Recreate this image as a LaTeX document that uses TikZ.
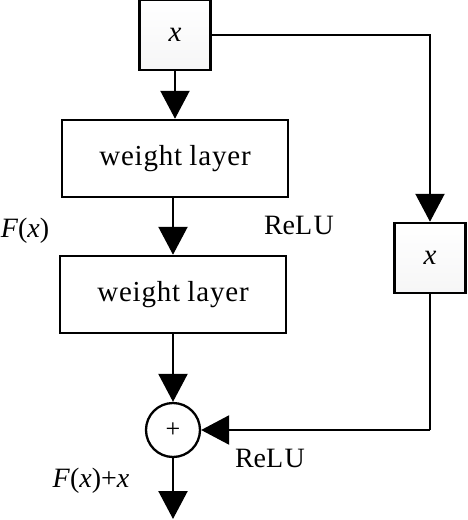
\documentclass[tikz,border=0pt]{standalone}
\usepackage{fontspec}
\setmainfont{Liberation Serif}
\usetikzlibrary{arrows.meta,positioning}
\tikzset{
  lbl/.style={font=\fontsize{28}{32}\selectfont, inner sep=0pt},
  wbox/.style={draw, line width=2.5pt, minimum width=226pt, minimum height=77pt, inner sep=0pt, font=\fontsize{29}{32}\selectfont, fill=white},
  xbox/.style={draw, line width=2.5pt, minimum width=71pt, minimum height=70pt, inner sep=0pt, font=\fontsize{29}{32}\selectfont\itshape, top color=white, bottom color=blue!3!gray!7},
  sumc/.style={draw, circle, line width=2.3pt, minimum size=54pt, inner sep=0pt, font=\fontsize{26}{28}\selectfont},
  conn/.style={line width=2.3pt, -{Triangle[length=28pt,width=29pt]}},
  line/.style={line width=2.3pt},
}
\begin{document}
\begin{tikzpicture}[x=1pt,y=-1pt]
\useasboundingbox (0,0) rectangle (467,520);
\node[xbox] (xin) at (175,35) {x};
\node[wbox] (w1) at (175,158.5) {w\kern0.8pt e\kern0.8pt i\kern0.8pt g\kern0.8pt h\kern0.8pt t l\kern0.8pt a\kern0.8pt y\kern0.8pt e\kern0.8pt r};
\node[wbox] (w2) at (173,294.5) {w\kern0.8pt e\kern0.8pt i\kern0.8pt g\kern0.8pt h\kern0.8pt t l\kern0.8pt a\kern0.8pt y\kern0.8pt e\kern0.8pt r};
\node[xbox] (xr) at (430,258) {x};
\node[sumc] (sum) at (173,430) {+};
\coordinate (c1) at (430,35);
\coordinate (c2) at (430,430);
\coordinate (out) at (173,519);
\node[lbl] (fx) at (25,231) {\textit{F}(\textit{x})};
\node[lbl] (relu1) at (299,225) {ReL\kern1.5pt U};
\node[lbl] (relu2) at (270,458) {ReL\kern1.5pt U};
\node[lbl] (fxx) at (91,481) {\textit{F}(\textit{x})+\textit{x}};
\draw[conn] (xin.south) -- (w1.north);
\draw[conn] (w2.north |- w1.south) -- (w2.north);
\draw[conn] (w2.south) -- (sum.north);
\draw[conn] (xin.east) -- (c1) -- (xr.north);
\draw[line] (xr.south) -- (c2);
\draw[conn] (c2) -- (sum.east);
\draw[conn] (sum.south) -- (out);
\end{tikzpicture}
\end{document}
